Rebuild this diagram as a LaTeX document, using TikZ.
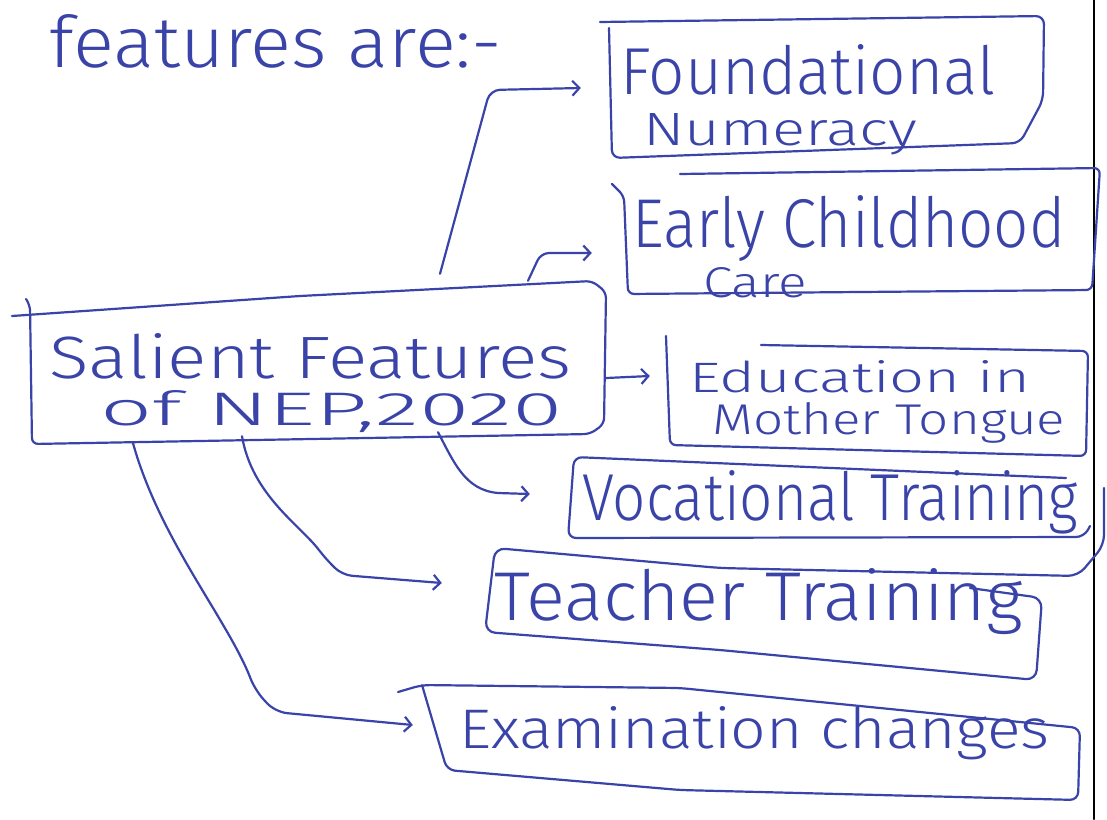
\documentclass[tikz,border=0pt]{standalone}
\usepackage{fontspec}
\setmainfont{Fira Sans}[UprightFont={* Light}]
\usetikzlibrary{arrows.meta,calc}
\definecolor{ink}{RGB}{58,68,168}
\newcommand{\hw}[3]{\resizebox{#1pt}{#2pt}{#3}}
\begin{document}
\begin{tikzpicture}[x=1pt,y=-1pt,line cap=round,line join=round,
  inkline/.style={draw=ink,line width=2.2pt},
  frame/.style={draw=none,rectangle,inner sep=0pt},
  txt/.style={inner sep=0pt,anchor=base west,text=ink},
  arr/.style={inkline,-{Straight Barb[length=7pt,width=15pt]}}]
\useasboundingbox (0,0) rectangle (1107,819);
\fill[white] (0,0) rectangle (1107,819);
\draw[black,line width=2.6pt] (1094,0) -- (1094,819);

% anchor frames (invisible)
\node[frame,minimum width=576pt,minimum height=150pt] (main) at (318,365) {};
\node[frame,minimum width=434pt,minimum height=140pt] (b1) at (827,88) {};
\node[frame,minimum width=472pt,minimum height=122pt] (b2) at (860,231) {};
\node[frame,minimum width=420pt,minimum height=108pt] (b3) at (877,398) {};
\node[frame,minimum width=522pt,minimum height=84pt] (b4) at (833,500) {};
\node[frame,minimum width=556pt,minimum height=110pt] (b5) at (763,600) {};
\node[frame,minimum width=656pt,minimum height=100pt] (b6) at (750,740) {};

% hand drawn outlines
\draw[inkline,rounded corners=6pt] (12,316) -- (300,296) -- (592,281) -- (606,292) -- (604,424) -- (590,434) -- (32,444) -- (30,305) -- (26,299);
\draw[inkline,rounded corners=8pt] (600,22) -- (1044,16) -- (1043,100) -- (1020,143) -- (612,158) -- (609,28);
\draw[inkline,rounded corners=6pt] (680,174) -- (1100,168) -- (1092,290) -- (628,294) -- (624,196) -- (612,184);
\draw[inkline,rounded corners=6pt] (761,345) -- (1088,351) -- (1086,456) -- (670,445) -- (666,336);
\draw[inkline,rounded corners=8pt] (1066,478) -- (574,457) -- (568,538) -- (1084,537) -- (1090,526);
\draw[inkline,rounded corners=10pt] (1104,488) -- (1104,545) -- (1078,576) -- (720,568) -- (495,548) -- (485,632) -- (720,650) -- (1036,680) -- (1042,598) -- (970,588);
\draw[inkline,rounded corners=8pt] (398,692) -- (422,685) -- (680,688) -- (1080,728) -- (1078,800) -- (680,790) -- (447,770) -- (422,685);

% texts
\node[txt] (t0) at (49,67) {\hw{453}{53}{features are:-}};
\node[txt] (tm1) at (49,378) {\hw{522}{45}{Salient Features}};
\node[txt] (tm2) at (100,425) {\hw{462}{35}{of NEP,2020}};
\node[txt] (t1a) at (620,94) {\hw{375}{50}{Foundational}};
\node[txt] (t1b) at (643,145) {\hw{274}{32}{Numeracy}};
\node[txt] (t2a) at (632,247) {\hw{433}{52}{Early Childhood}};
\node[txt] (t2b) at (703,297) {\hw{104}{30}{Care}};
\node[txt] (t3a) at (689,392) {\hw{341}{32}{Education in}};
\node[txt] (t3b) at (712,434) {\hw{353}{32}{Mother Tongue}};
\node[txt] (t4) at (582,520) {\hw{496}{50}{Vocational Training}};
\node[txt] (t5) at (494,620) {\hw{528}{52}{Teacher Training}};
\node[txt] (t6) at (459,748) {\hw{590}{42}{Examination changes}};

% connectors
\coordinate (k1) at (490,90);
\draw[arr,rounded corners=10pt] ([xshift=122pt,yshift=16pt]main.north) -- (k1) -- ([xshift=-29pt]b1.west);
\coordinate (k2) at (541,253);
\draw[arr,rounded corners=8pt] ([xshift=210pt,yshift=9pt]main.north) -- (k2) -- ([xshift=-32pt,yshift=-22pt]b2.west);
\draw[arr] ([yshift=-13pt]main.east) -- ([xshift=-17pt,yshift=22pt]b3.west);
\coordinate (k4) at (498,493);
\draw[arr] ([xshift=120pt,yshift=8pt]main.south) to[out=-62,in=175] (k4) -- ([xshift=-42pt,yshift=6pt]b4.west);
\draw[arr,rounded corners=10pt] ([xshift=-76pt,yshift=4pt]main.south) .. controls (252,495) and (300,525) .. (325,558) -- (342,575) -- ([xshift=-43pt,yshift=17pt]b5.west);
\draw[arr,rounded corners=12pt] ([xshift=-185pt,yshift=-3pt]main.south) .. controls (160,540) and (228,620) .. (255,690) -- (275,712) -- ([xshift=-9pt,yshift=15pt]b6.west);
\end{tikzpicture}
\end{document}
